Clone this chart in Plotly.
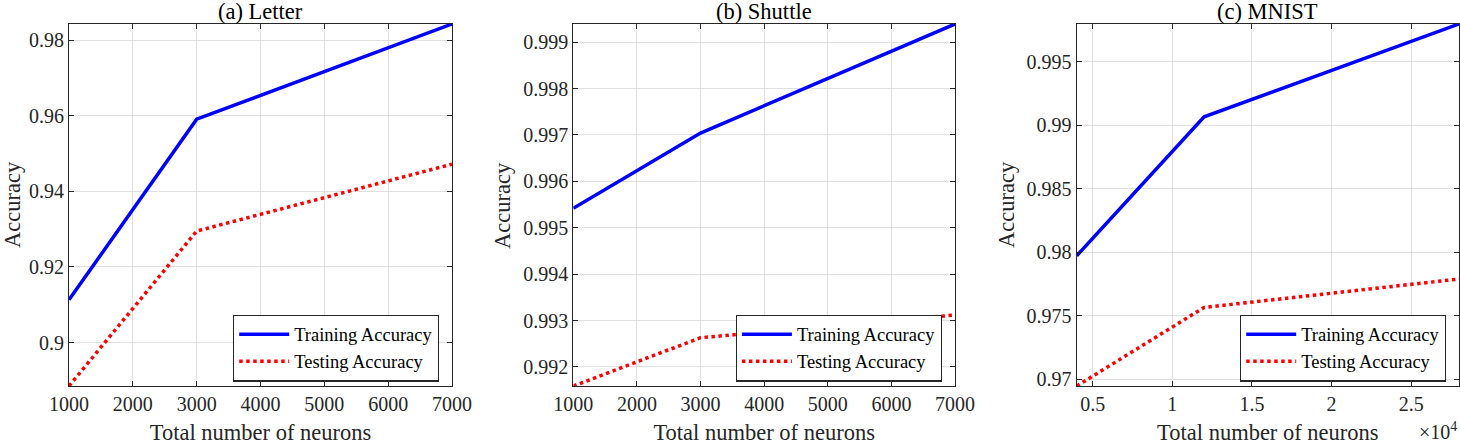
import plotly.graph_objects as go

# ---- data ----
letter_x = [1000, 3000, 7000]
letter_train = [0.9113, 0.9591, 0.9843]
letter_test = [0.8885, 0.9295, 0.9472]

shuttle_x = [1000, 3000, 7000]
shuttle_train = [0.99542, 0.99704, 0.99939]
shuttle_test = [0.99159, 0.99263, 0.99312]

mnist_x = [4000, 12000, 28000]
mnist_train = [0.97973, 0.99068, 0.99799]
mnist_test = [0.96947, 0.97566, 0.97790]

titles = ["(a) Letter", "(b) Shuttle", "(c) MNIST"]

ab_xticks = [1000, 2000, 3000, 4000, 5000, 6000, 7000]
ab_xticktext = ["1000", "2000", "3000", "4000", "5000", "6000", "7000"]
c_xticks = [5000, 10000, 15000, 20000, 25000]
c_xticktext = ["0.5", "1", "1.5", "2", "2.5"]

a_yticks = [0.90, 0.92, 0.94, 0.96, 0.98]
a_yticktext = ["0.9", "0.92", "0.94", "0.96", "0.98"]
b_yticks = [0.992, 0.993, 0.994, 0.995, 0.996, 0.997, 0.998, 0.999]
b_yticktext = ["0.992", "0.993", "0.994", "0.995", "0.996", "0.997", "0.998", "0.999"]
c_yticks = [0.970, 0.975, 0.980, 0.985, 0.990, 0.995]
c_yticktext = ["0.97", "0.975", "0.98", "0.985", "0.99", "0.995"]

# ---- layout geometry ----
W, H = 1460, 445
FONT = "Liberation Serif"
INK = "#262626"
xdoms = [(69 / W, 452 / W), (573.3 / W, 955 / W), (1076.7 / W, 1459 / W)]
ydom = (1 - 386 / H, 1 - 24 / H)
legend_right_px = [439, 941.7, 1446]
ytitle_px = [12, 502, 1006]

panels = [
    (letter_x, letter_train, letter_test, ab_xticks, ab_xticktext, a_yticks, a_yticktext),
    (shuttle_x, shuttle_train, shuttle_test, ab_xticks, ab_xticktext, b_yticks, b_yticktext),
    (mnist_x, mnist_train, mnist_test, c_xticks, c_xticktext, c_yticks, c_yticktext),
]

fig = go.Figure()
layout = dict(
    width=W, height=H,
    margin=dict(l=0, r=0, t=0, b=0),
    paper_bgcolor="white", plot_bgcolor="white",
    font=dict(family=FONT, size=20, color=INK),
    annotations=[],
)

for i, (xs, tr, te, xt, xtt, yt, ytt) in enumerate(panels):
    n = "" if i == 0 else str(i + 1)
    leg = "legend" if i == 0 else f"legend{i + 1}"
    fig.add_trace(go.Scatter(x=xs, y=tr, mode="lines", name="Training Accuracy",
                             line=dict(color="#0000ff", width=3.5),
                             xaxis="x" + n, yaxis="y" + n, legend=leg))
    fig.add_trace(go.Scatter(x=xs, y=te, mode="lines", name="Testing Accuracy",
                             line=dict(color="#ff0000", width=3.5, dash="dot"),
                             xaxis="x" + n, yaxis="y" + n, legend=leg))
    allv = tr + te
    common = dict(showline=True, linecolor=INK, linewidth=1.2, mirror="ticks",
                  ticks="inside", ticklen=5, tickwidth=1.2, tickcolor=INK,
                  showgrid=True, gridcolor="#e0e0e0", gridwidth=1.3,
                  zeroline=False, automargin=False,
                  tickfont=dict(family=FONT, size=20, color=INK))
    layout["xaxis" + n] = dict(common, domain=list(xdoms[i]), anchor="y" + n,
                               range=[min(xs), max(xs)], tickvals=xt, ticktext=xtt,
                               ticklabelstandoff=0,
                               title=dict(text="Total number of neurons",
                                          font=dict(family=FONT, size=22.5, color=INK),
                                          standoff=12))
    layout["yaxis" + n] = dict(common, domain=list(ydom), anchor="x" + n,
                               range=[min(allv), max(allv)], tickvals=yt, ticktext=ytt)
    layout[leg] = dict(x=legend_right_px[i] / W, y=1 - 348 / H,
                       xanchor="right", yanchor="middle",
                       xref="paper", yref="paper",
                       bgcolor="white", bordercolor=INK, borderwidth=1.2,
                       font=dict(family=FONT, size=18.5, color="black"),
                       tracegroupgap=0, itemwidth=50)
    cx = (xdoms[i][0] + xdoms[i][1]) / 2
    layout["annotations"].append(dict(text=titles[i], x=cx, y=1 - 11.5 / H,
                                      xref="paper", yref="paper",
                                      xanchor="center", yanchor="middle",
                                      showarrow=False,
                                      font=dict(family=FONT, size=22.5, color="black")))
    layout["annotations"].append(dict(text="Accuracy", x=ytitle_px[i] / W,
                                      y=(ydom[0] + ydom[1]) / 2,
                                      xref="paper", yref="paper", textangle=-90,
                                      xanchor="center", yanchor="middle",
                                      showarrow=False,
                                      font=dict(family=FONT, size=22.5, color=INK)))

layout["annotations"].append(dict(text="×10<sup>4</sup>", x=1459 / W, y=1 - 431 / H,
                                  xref="paper", yref="paper",
                                  xanchor="right", yanchor="middle", showarrow=False,
                                  font=dict(family=FONT, size=20, color=INK)))

fig.update_layout(**layout)
fig.write_html("out.html",
               config={"displayModeBar": False},
               post_script="document.body.style.margin='0';"
                           "document.body.style.overflow='hidden';")
